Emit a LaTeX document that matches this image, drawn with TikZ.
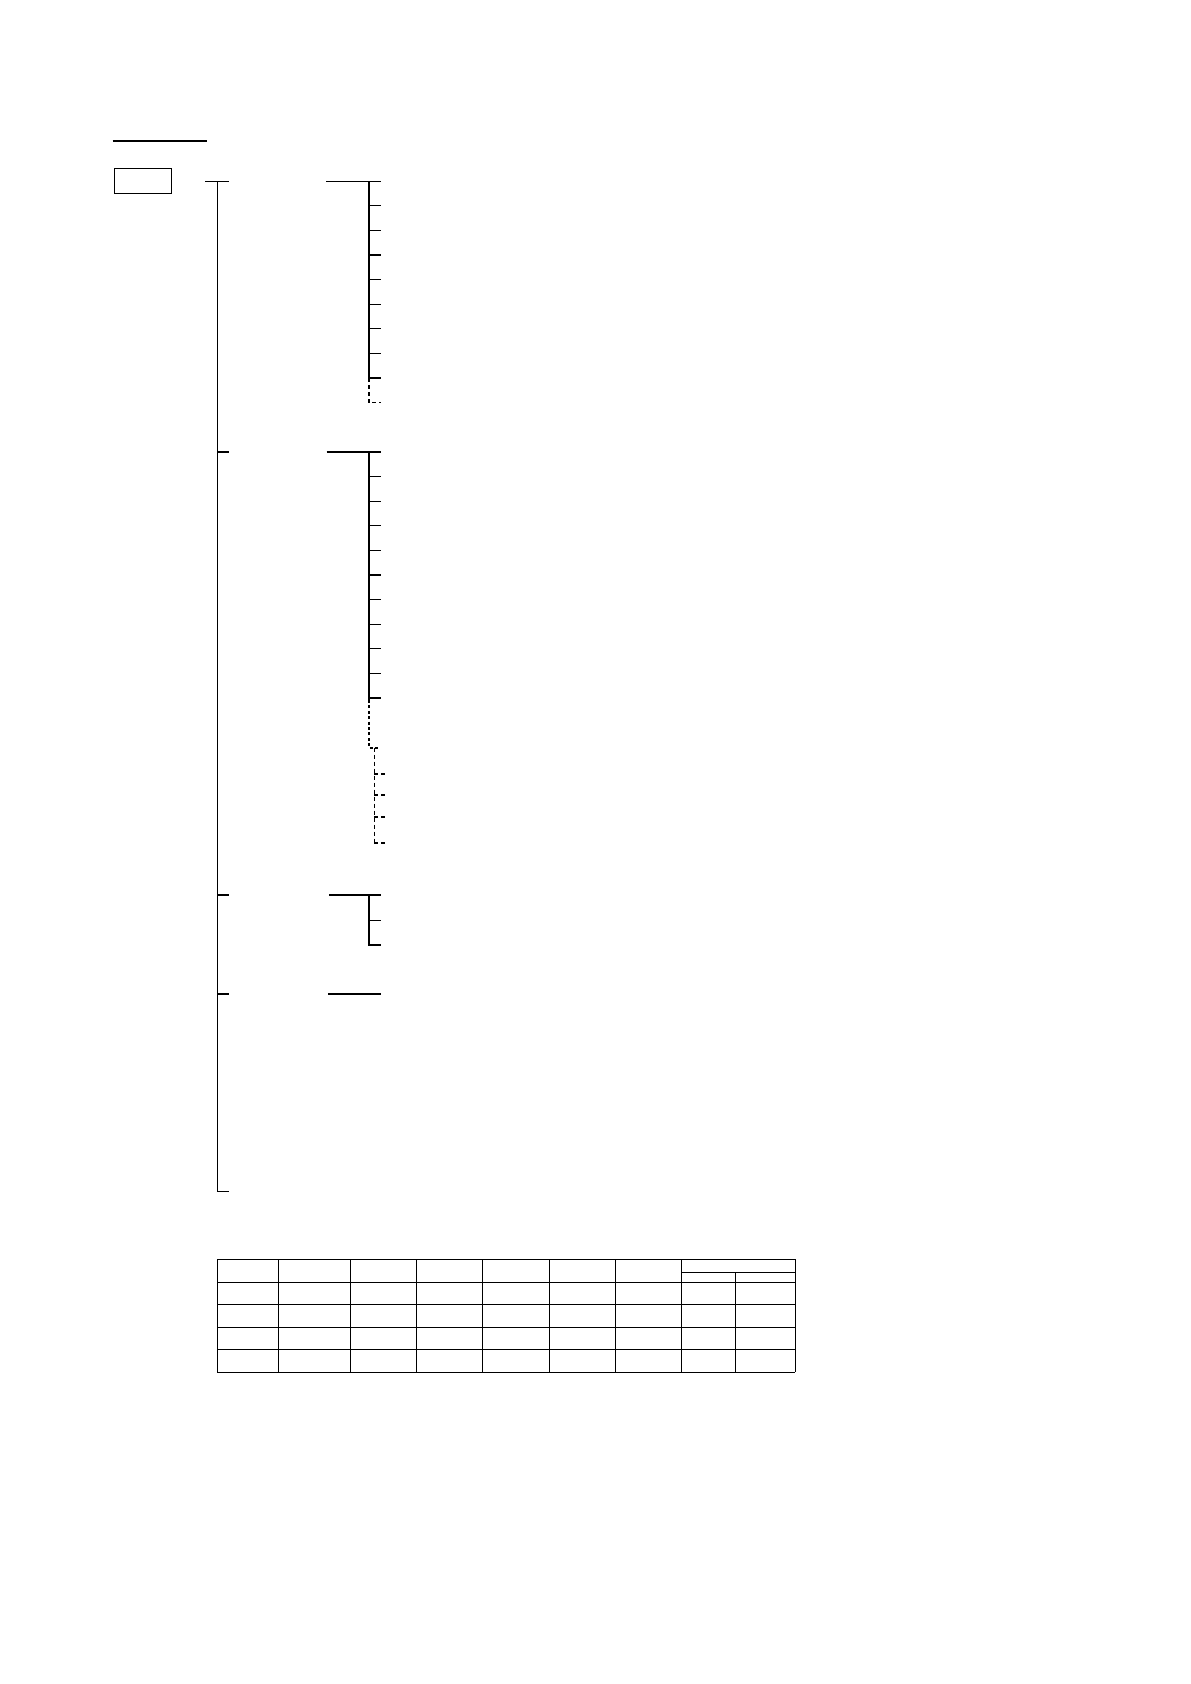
\documentclass[tikz,border=0pt]{standalone}
\usepackage{tikz}
\usetikzlibrary{shapes,positioning,calc}

\begin{document}
\begin{tikzpicture}[x=0.5pt, y=-0.5pt, line width=0.6pt,
  spine/.style={line width=1.1pt},
  dashline/.style={dash pattern=on 2pt off 1.5pt},
  dotline/.style={line width=1.1pt, dash pattern=on 1.5pt off 1.2pt}]
				\useasboundingbox (0,0) rectangle (1190,1684);

				% Draw title underline
				\draw[line width=1pt] (112.7,141) -- (206.7,141);

				% Draw root box
				\node[draw, rectangle, line width=0.7pt, inner sep=0pt,
				  minimum width=28.5pt, minimum height=12.5pt] (root) at (142.8,180.8) {};

				% Draw main trunk
				\coordinate (trunkA) at (217.3,181.3);
				\coordinate (trunkB) at (217.3,452);
				\coordinate (trunkC) at (217.3,895);
				\coordinate (trunkD) at (217.3,994);
				\coordinate (trunkEnd) at (217.3,1191.3);
				\draw (205,181.3) -- (trunkA) -- (trunkEnd) -- ++(11.7,0);
				\foreach \t in {A,B,C,D}
				  \draw (trunk\t) -- ++(11.7,0);

				% Draw first group
				\coordinate (groupA) at (369,181.3);
				\draw (326,181.3) -- (381,181.3);
				\draw[spine] (groupA) -- (369,378.1);
				\foreach \i in {1,...,7}
				  \draw (369,181.3+24.6*\i) -- ++(12,0);
				\draw (369,378.1) -- ++(12,0);
				\draw[dashline] (369,378.1) -- (369,402.7) -- ++(12,0);

				% Draw second group
				\coordinate (groupB) at (369,452);
				\draw (326.7,452) -- (381,452);
				\draw[spine] (groupB) -- (369,700);
				\foreach \i in {1,...,10}
				  \draw (369,452+24.6*\i) -- ++(12,0);
				\draw[dotline] (369,700) -- (369,747.7) -- (378,747.7);
				\draw[dashline] (374.3,747.7) -- (374.3,842.7);
				\foreach \y in {774,795,816.7,842.7}
				  \draw[dashline, line width=0.9pt] (374.3,\y) -- ++(12.4,0);

				% Draw third group
				\coordinate (groupC) at (369,895);
				\draw (329,895) -- (381,895);
				\draw[spine] (groupC) -- (369,945) -- (381,945);
				\draw (369,920.3) -- ++(12,0);

				% Draw fourth group
				\draw (328,994) -- (381,994);

				% Draw table
				\foreach \x in {217.3,278.3,350.3,416.3,482.3,549.3,615.3,681.3,795.3}
				  \draw (\x,1259.3) -- (\x,1372.3);
				\draw (735.3,1272.3) -- (735.3,1372.3);
				\foreach \y in {1259.3,1282.3,1304.3,1327.3,1349.3,1372.3}
				  \draw (217.3,\y) -- (795.3,\y);
				\draw (681.3,1272.3) -- (795.3,1272.3);
			\end{tikzpicture}
\end{document}
